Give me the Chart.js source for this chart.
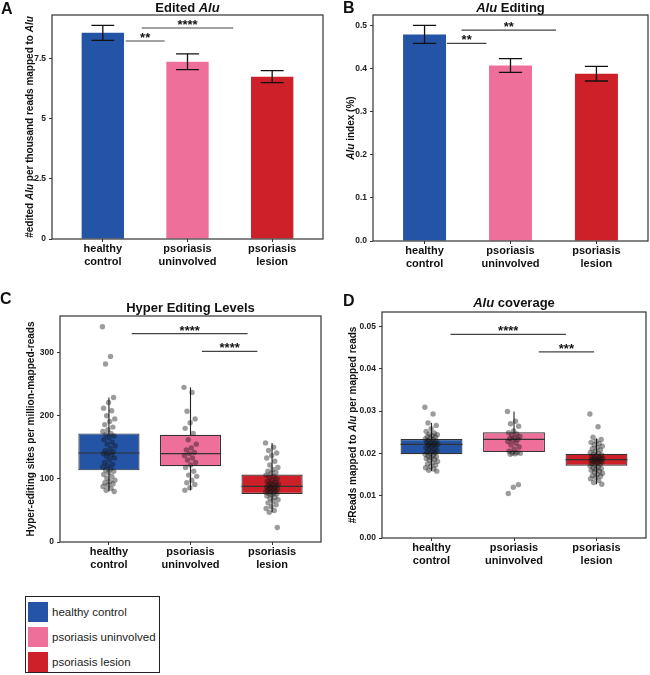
<!DOCTYPE html>
<html>
<head>
<meta charset="utf-8">
<script src="https://cdn.jsdelivr.net/npm/chart.js@4.4.0/dist/chart.umd.min.js"></script>
<style>
body { margin: 0; background: #fff; }
#wrap { position: relative; width: 650px; height: 675px; overflow: hidden; }
#wrap canvas { position: absolute; }
#legend { position: absolute; left: 25px; top: 596px; width: 133px; height: 75px; border: 1px solid #222;
  font-family: "Liberation Sans", Arial, sans-serif; font-size: 11.5px; color: #222; background: #fff; }
.item { position: absolute; left: 2px; height: 20px; line-height: 20px; }
.sw { display: inline-block; width: 20px; height: 20px; vertical-align: top; margin-right: 4px; }
</style>
</head>
<body>
<div id="wrap">
  <canvas id="chartA" width="325" height="300" style="left:0;top:0"></canvas>
  <canvas id="chartB" width="325" height="300" style="left:325px;top:0"></canvas>
  <canvas id="chartC" width="325" height="310" style="left:0;top:290px"></canvas>
  <canvas id="chartD" width="325" height="310" style="left:325px;top:290px"></canvas>
  <div id="legend"></div>
</div>
<script>
var FONT = '"Liberation Sans", Arial, Helvetica, sans-serif';

var groups = ["healthy control", "psoriasis uninvolved", "psoriasis lesion"];
var groupLabels = [["healthy", "control"], ["psoriasis", "uninvolved"], ["psoriasis", "lesion"]];
var colors = ["#2454a5", "#ef6f9b", "#cd2029"];

// A - edited Alu (mean, s.e.)
var editedAlu = [8.56, 7.36, 6.74];
var editedAluErr = [0.31, 0.33, 0.25];
var ticksA = [0, 2.5, 5, 7.5];

// B - Alu editing index
var aluIndex = [0.479, 0.407, 0.388];
var aluIndexErr = [0.021, 0.016, 0.017];
var ticksB = [0, 0.1, 0.2, 0.3, 0.4, 0.5];

// C - hyper editing, per sample
var hyperHealthy = [341, 294, 282, 229, 221, 212, 208, 200, 195, 191, 186, 182, 178, 175, 172, 170, 168, 165, 162,
  158, 155, 152, 148, 145, 143, 141, 140, 138, 136, 133, 130, 126, 123, 121, 119, 116, 114, 112, 110, 107, 104,
  101, 98, 96, 94, 92, 90, 88, 85, 82, 80];
var hyperUninv = [245, 237, 207, 195, 189, 180, 172, 162, 155, 149, 146, 142, 140, 137, 133, 130, 126, 122, 118,
  112, 106, 104, 98, 94, 91, 86, 82];
var hyperLesion = [157, 150, 145, 141, 137, 133, 128, 122, 118, 115, 112, 110, 108, 106, 104, 102, 100, 98, 96, 95,
  93, 92, 91, 90, 89, 88, 87, 86, 85, 84, 83, 82, 81, 80, 79, 78, 77, 76, 75, 73, 71, 69, 67, 65, 62, 59, 56, 53,
  50, 47, 23];
var hyperQ1 = [113.5, 120, 76];
var hyperMed = [141, 140, 88];
var hyperQ3 = [172, 170, 107];
var hyperLo = [80, 82, 47];
var hyperHi = [229, 245, 157];
var ticksC = [0, 100, 200, 300];

// D - Alu coverage, per sample
var covHealthy = [0.0309, 0.0293, 0.0272, 0.0266, 0.0258, 0.0252, 0.0248, 0.0246, 0.0244, 0.0242, 0.0240, 0.0238,
  0.0236, 0.0234, 0.0233, 0.0231, 0.0229, 0.0227, 0.0226, 0.0224, 0.0222, 0.0221, 0.0220, 0.0219, 0.0217, 0.0215,
  0.0213, 0.0211, 0.0209, 0.0207, 0.0205, 0.0203, 0.0201, 0.0199, 0.0198, 0.0196, 0.0194, 0.0192, 0.0190, 0.0188,
  0.0186, 0.0184, 0.0181, 0.0178, 0.0175, 0.0172, 0.0169, 0.0166, 0.0163, 0.0160, 0.0158];
var covUninv = [0.0299, 0.0276, 0.0270, 0.0264, 0.0253, 0.0249, 0.0246, 0.0243, 0.0240, 0.0237, 0.0235, 0.0233,
  0.0231, 0.0228, 0.0224, 0.0220, 0.0215, 0.0210, 0.0205, 0.0202, 0.0201, 0.0200, 0.0199, 0.0198, 0.0126, 0.0120,
  0.0105];
var covLesion = [0.0293, 0.0263, 0.0238, 0.0233, 0.0229, 0.0226, 0.0223, 0.0220, 0.0217, 0.0214, 0.0211, 0.0208,
  0.0205, 0.0202, 0.0200, 0.0198, 0.0196, 0.0194, 0.0192, 0.0190, 0.0189, 0.0188, 0.0187, 0.0186, 0.0185, 0.0184,
  0.0183, 0.0182, 0.0181, 0.0180, 0.0178, 0.0176, 0.0174, 0.0172, 0.0170, 0.0168, 0.0166, 0.0164, 0.0162, 0.0160,
  0.0158, 0.0156, 0.0153, 0.0150, 0.0148, 0.0146, 0.0143, 0.0140, 0.0136, 0.0131, 0.0127];
var covQ1 = [0.0198, 0.0203, 0.0171];
var covMed = [0.0221, 0.0233, 0.0185];
var covQ3 = [0.0234, 0.0250, 0.0199];
var covLo = [0.0158, 0.0198, 0.0127];
var covHi = [0.0272, 0.0299, 0.0235];
var ticksD = [0, 0.01, 0.02, 0.03, 0.04, 0.05];

// significance brackets: [from, to, y, stars]
var sigA = [[1.27, 1.73, 8.22, "**"], [1.46, 2.54, 8.76, "****"]];
var sigB = [[1.26, 1.72, 0.458, "**"], [1.43, 2.53, 0.489, "**"]];
var sigC = [[1.28, 2.70, 330, "****"], [2.14, 2.82, 302, "****"]];
var sigD = [[1.23, 2.63, 0.0481, "****"], [2.30, 2.97, 0.0440, "***"]];

// small fixed horizontal spread for the sample dots
function jitter(i) {
  return (((i * 0.618034) % 1) - 0.5) * 0.16;
}

function dots(values, pos) {
  return values.map(function (v, i) { return { x: pos + jitter(i), y: v }; });
}

function font(size, italic) {
  return (italic ? "italic " : "") + "bold " + size + "px " + FONT;
}

// draw text made of [text, italic] pieces centred on (x, y)
function drawParts(ctx, parts, x, y, size, vertical) {
  ctx.save();
  ctx.fillStyle = "#111";
  ctx.textBaseline = "middle";
  ctx.textAlign = "left";
  var total = 0;
  parts.forEach(function (p) { ctx.font = font(size, p[1]); total += ctx.measureText(p[0]).width; });
  ctx.translate(x, y);
  if (vertical) ctx.rotate(-Math.PI / 2);
  var cx = -total / 2;
  parts.forEach(function (p) {
    ctx.font = font(size, p[1]);
    ctx.fillText(p[0], cx, 0);
    cx += ctx.measureText(p[0]).width;
  });
  ctx.restore();
}

var extras = {
  id: "extras",
  beforeDatasetsDraw: function (chart) {
    var o = chart.options.plugins.extras;
    if (!o.lo) return;
    var ctx = chart.ctx, xs = chart.scales.x, ys = chart.scales.y;
    ctx.save();
    ctx.strokeStyle = "#222";
    ctx.lineWidth = 1.1;
    o.lo.forEach(function (lo, i) {
      var px = xs.getPixelForValue(i + 1);
      ctx.beginPath();
      ctx.moveTo(px, ys.getPixelForValue(lo));
      ctx.lineTo(px, ys.getPixelForValue(o.hi[i]));
      ctx.stroke();
    });
    ctx.restore();
  },
  afterDatasetDraw: function (chart, args) {
    var o = chart.options.plugins.extras;
    if (!o.med || args.meta.type !== "bar") return;
    var ctx = chart.ctx, ys = chart.scales.y;
    ctx.save();
    ctx.strokeStyle = "#333";
    ctx.lineWidth = 1.2;
    args.meta.data.forEach(function (el, i) {
      var py = ys.getPixelForValue(o.med[i]);
      ctx.beginPath();
      ctx.moveTo(el.x - el.width / 2, py);
      ctx.lineTo(el.x + el.width / 2, py);
      ctx.stroke();
    });
    ctx.restore();
  },
  afterDatasetsDraw: function (chart) {
    var o = chart.options.plugins.extras;
    if (!o.err) return;
    var ctx = chart.ctx, xs = chart.scales.x, ys = chart.scales.y;
    ctx.save();
    ctx.strokeStyle = "#111";
    ctx.lineWidth = 1.3;
    o.mean.forEach(function (m, i) {
      var px = xs.getPixelForValue(i + 1);
      var w = xs.getPixelForValue(i + 1.135) - px;
      var top = ys.getPixelForValue(m + o.err[i]);
      var bot = ys.getPixelForValue(m - o.err[i]);
      ctx.beginPath();
      ctx.moveTo(px, top); ctx.lineTo(px, bot);
      ctx.moveTo(px - w, top); ctx.lineTo(px + w, top);
      ctx.moveTo(px - w, bot); ctx.lineTo(px + w, bot);
      ctx.stroke();
    });
    ctx.restore();
  },
  afterDraw: function (chart) {
    var o = chart.options.plugins.extras;
    var ctx = chart.ctx, a = chart.chartArea, xs = chart.scales.x, ys = chart.scales.y;
    ctx.save();
    // panel border
    ctx.strokeStyle = "#333";
    ctx.lineWidth = 1.2;
    ctx.strokeRect(a.left, a.top, a.right - a.left, a.bottom - a.top);
    // significance lines
    ctx.strokeStyle = "#444";
    ctx.lineWidth = 1.2;
    ctx.fillStyle = "#111";
    ctx.font = font(13);
    ctx.textAlign = "center";
    ctx.textBaseline = "alphabetic";
    o.sig.forEach(function (s) {
      var x1 = xs.getPixelForValue(s[0]), x2 = xs.getPixelForValue(s[1]), py = ys.getPixelForValue(s[2]);
      ctx.beginPath();
      ctx.moveTo(x1, py); ctx.lineTo(x2, py);
      ctx.stroke();
      ctx.fillText(s[3], (x1 + x2) / 2, py + 1);
    });
    // panel letter
    ctx.font = font(16);
    ctx.textAlign = "left";
    ctx.textBaseline = "middle";
    ctx.fillText(o.letter[0], o.letter[1], o.letter[2]);
    ctx.restore();
    drawParts(ctx, o.title, (a.left + a.right) / 2, o.titleY, 13, false);
    drawParts(ctx, o.yTitle, o.yTitleX, (a.top + a.bottom) / 2, 10, true);
  }
};

function makeChart(id, p) {
  var ctx = document.getElementById(id).getContext("2d");
  var h = ctx.canvas.height;
  return new Chart(ctx, {
    type: "bar",
    data: { datasets: p.datasets },
    plugins: [extras],
    options: {
      responsive: false,
      animation: false,
      devicePixelRatio: 1,
      layout: { padding: { left: 0, top: p.area[2], right: 325 - p.area[1], bottom: 0 } },
      plugins: {
        legend: { display: false },
        tooltip: { enabled: false },
        extras: p.extras
      },
      scales: {
        x: {
          type: "linear",
          offset: false,
          min: 0.4,
          max: 3.6,
          afterBuildTicks: function (s) { s.ticks = [{ value: 1 }, { value: 2 }, { value: 3 }]; },
          afterFit: function (s) { s.height = h - p.area[3]; },
          ticks: {
            callback: function (v) { return groupLabels[v - 1]; },
            font: { family: FONT, size: 11, weight: "bold", lineHeight: 1.15 },
            color: "#111",
            padding: 1,
            maxRotation: 0,
            autoSkip: false
          },
          grid: { offset: false, drawOnChartArea: false, tickLength: 3, color: "#333" },
          border: { display: false }
        },
        y: {
          min: 0,
          max: p.yMax,
          afterBuildTicks: function (s) { s.ticks = p.yTicks.map(function (v) { return { value: v }; }); },
          afterFit: function (s) { s.width = p.area[0]; },
          ticks: {
            callback: p.yFmt,
            font: { family: FONT, size: 8.5, weight: "bold" },
            color: "#222",
            padding: 3
          },
          grid: { drawOnChartArea: false, tickLength: 3, color: "#333" },
          border: { display: false }
        }
      }
    }
  });
}

function barSet(values) {
  return {
    type: "bar",
    data: values.map(function (v, i) { return { x: i + 1, y: v }; }),
    backgroundColor: colors,
    borderWidth: 0,
    barPercentage: 0.5,
    categoryPercentage: 1
  };
}

function boxSet(q1, q3) {
  return {
    type: "bar",
    order: 1,
    data: q1.map(function (v, i) { return { x: i + 1, y: [v, q3[i]] }; }),
    backgroundColor: colors,
    borderColor: "#333",
    borderWidth: 1.2,
    borderSkipped: false,
    barPercentage: 0.75,
    categoryPercentage: 1
  };
}

function dotSet(a, b, c) {
  return {
    type: "scatter",
    order: 0,
    data: dots(a, 1).concat(dots(b, 2), dots(c, 3)),
    backgroundColor: "rgba(20,20,20,0.42)",
    borderWidth: 0,
    pointRadius: 2.7
  };
}

makeChart("chartA", {
  area: [52, 323, 15, 239],
  yMax: 9.3,
  yTicks: ticksA,
  yFmt: function (v) { return String(v); },
  datasets: [barSet(editedAlu)],
  extras: {
    mean: editedAlu, err: editedAluErr, sig: sigA,
    letter: ["A", 1, 10], titleY: 8,
    title: [["Edited ", false], ["Alu", true]],
    yTitleX: 30,
    yTitle: [["#edited ", false], ["Alu", true], [" per thousand reads mapped to ", false], ["Alu", true]]
  }
});

makeChart("chartB", {
  area: [48, 323, 15, 241],
  yMax: 0.524,
  yTicks: ticksB,
  yFmt: function (v) { return v.toFixed(1); },
  datasets: [barSet(aluIndex)],
  extras: {
    mean: aluIndex, err: aluIndexErr, sig: sigB,
    letter: ["B", 18, 9], titleY: 8,
    title: [["Alu", true], [" Editing", false]],
    yTitleX: 26,
    yTitle: [["Alu", true], [" index (%)", false]]
  }
});

// C and D canvases start 10px higher so their letters fit
makeChart("chartC", {
  area: [60, 323, 26, 252],
  yMax: 358,
  yTicks: ticksC,
  yFmt: function (v) { return String(v); },
  datasets: [dotSet(hyperHealthy, hyperUninv, hyperLesion), boxSet(hyperQ1, hyperQ3)],
  extras: {
    lo: hyperLo, hi: hyperHi, med: hyperMed, sig: sigC,
    letter: ["C", 0, 10], titleY: 18,
    title: [["Hyper Editing Levels", false]],
    yTitleX: 31,
    yTitle: [["Hyper-editing sites per million-mapped-reads", false]]
  }
});

makeChart("chartD", {
  area: [57, 323, 22, 248],
  yMax: 0.0534,
  yTicks: ticksD,
  yFmt: function (v) { return v.toFixed(2); },
  datasets: [dotSet(covHealthy, covUninv, covLesion), boxSet(covQ1, covQ3)],
  extras: {
    lo: covLo, hi: covHi, med: covMed, sig: sigD,
    letter: ["D", 18, 12], titleY: 13,
    title: [["Alu", true], [" coverage", false]],
    yTitleX: 28,
    yTitle: [["#Reads mapped to ", false], ["Alu", true], [" per mapped reads", false]]
  }
});

// legend
var legend = document.getElementById("legend");
groups.forEach(function (g, i) {
  var d = document.createElement("div");
  d.className = "item";
  d.style.top = (5 + i * 25) + "px";
  d.innerHTML = '<span class="sw" style="background:' + colors[i] + '"></span>' + g;
  legend.appendChild(d);
});
</script>
</body>
</html>
